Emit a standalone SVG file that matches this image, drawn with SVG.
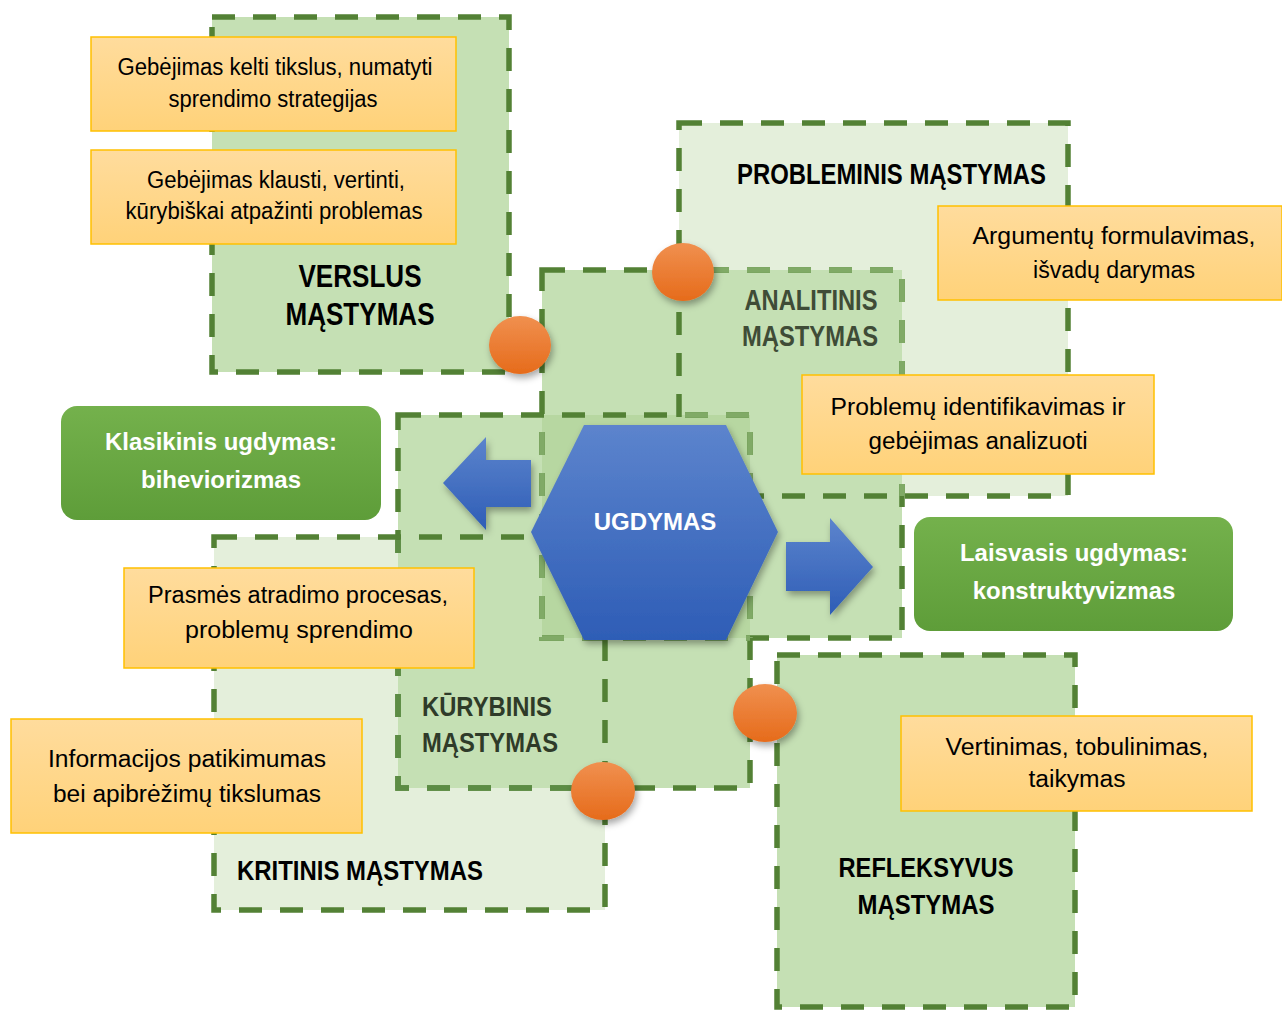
<svg xmlns="http://www.w3.org/2000/svg" width="1282" height="1010" viewBox="0 0 1282 1010">
<defs>
<style>
.dash{fill:none;stroke-width:5.5;stroke-dasharray:23 18;stroke-linecap:butt}
.dk{stroke:#538135}
.lt{stroke:#80aa66}
.md{stroke:#5c8c44}
.fillM{fill:#c5e0b4}
.fillL{fill:#e4efdb}
.title{font-family:"Liberation Sans",Arial,sans-serif;font-weight:bold;fill:#000}
.note{font-family:"Liberation Sans",Arial,sans-serif;font-size:23px;fill:#000;text-anchor:middle}
.ybox{fill:url(#gY);stroke:#ffc000;stroke-width:1.5}
.gbox{fill:url(#gG)}
.gtext{font-family:"Liberation Sans",Arial,sans-serif;font-weight:bold;font-size:24px;fill:#fff;text-anchor:middle}
.dot{fill:url(#gO);filter:url(#sh)}
.blue{fill:url(#gB);filter:url(#sh)}
</style>
<linearGradient id="gY" x1="0" y1="0" x2="0" y2="1"><stop offset="0" stop-color="#ffdc9d"/><stop offset="1" stop-color="#ffd279"/></linearGradient>
<linearGradient id="gG" x1="0" y1="0" x2="0" y2="1"><stop offset="0" stop-color="#74b14c"/><stop offset="1" stop-color="#5e9d39"/></linearGradient>
<linearGradient id="gO" x1="0" y1="0" x2="0" y2="1"><stop offset="0" stop-color="#f0904f"/><stop offset="1" stop-color="#e66b1b"/></linearGradient>
<linearGradient id="gB" x1="0" y1="0" x2="0" y2="1"><stop offset="0" stop-color="#5c84cd"/><stop offset="1" stop-color="#2e5db6"/></linearGradient>
<filter id="sh" x="-30%" y="-30%" width="160%" height="170%"><feDropShadow dx="2" dy="4" stdDeviation="3.5" flood-color="#000" flood-opacity="0.35"/></filter>
<clipPath id="cpCL"><rect x="398" y="415" width="352" height="376"/><rect x="679" y="118" width="393" height="378"/></clipPath>
<clipPath id="cpDL"><rect x="745" y="418" width="12" height="220"/><rect x="679" y="118" width="393" height="378"/></clipPath>
<clipPath id="cpDM"><rect x="214" y="540" width="391" height="373"/></clipPath>
</defs>

<!-- base fills of light boxes -->
<rect class="fillL" x="679" y="123" width="389" height="373"/>
<rect class="fillL" x="214" y="537" width="391" height="373"/>

<g id="verslus">
<rect class="fillM" x="212" y="17" width="297" height="355"/>
<rect class="dash dk" x="212" y="17" width="297" height="355"/>
<text class="title" x="360" y="287" font-size="32" text-anchor="middle" textLength="123" lengthAdjust="spacingAndGlyphs">VERSLUS</text>
<text class="title" x="360" y="325" font-size="32" text-anchor="middle" textLength="149" lengthAdjust="spacingAndGlyphs">MĄSTYMAS</text>
</g>

<g id="refleksyvus">
<rect class="fillM" x="777" y="655" width="298" height="352"/>
<rect class="dash dk" x="777" y="655" width="298" height="352"/>
<text class="title" x="926" y="877" font-size="27" text-anchor="middle" textLength="175" lengthAdjust="spacingAndGlyphs">REFLEKSYVUS</text>
<text class="title" x="926" y="914" font-size="27" text-anchor="middle" textLength="137" lengthAdjust="spacingAndGlyphs">MĄSTYMAS</text>
</g>

<g id="analitinis">
<rect class="fillM" x="542" y="270" width="360" height="368"/>
</g>
<g id="kurybinis">
<rect class="fillM" x="398" y="415" width="352" height="373"/>
<rect fill="#b7d7a1" x="542" y="415" width="208" height="223"/>
</g>

<g id="outlines">
<rect class="dash dk" x="542" y="270" width="360" height="368"/>
<rect class="dash dk" x="398" y="415" width="352" height="373"/>
<rect class="dash lt" x="542" y="270" width="360" height="368" clip-path="url(#cpCL)"/>
<rect class="dash lt" x="398" y="415" width="352" height="373" clip-path="url(#cpDL)"/>
<rect class="dash md" x="398" y="415" width="352" height="373" clip-path="url(#cpDM)"/>
</g>

<g id="probleminis">
<rect class="dash dk" x="679" y="123" width="389" height="373"/>
<text class="title" x="737" y="184" font-size="29" textLength="309" lengthAdjust="spacingAndGlyphs">PROBLEMINIS MĄSTYMAS</text>
</g>

<g id="kritinis">
<rect class="dash dk" x="214" y="537" width="391" height="373"/>
<text class="title" x="237" y="880" font-size="28" textLength="246" lengthAdjust="spacingAndGlyphs">KRITINIS MĄSTYMAS</text>
</g>

<g id="analitinis-label">
<text class="title" x="811" y="310" font-size="29" text-anchor="middle" style="fill:#3f4c37" textLength="133" lengthAdjust="spacingAndGlyphs">ANALITINIS</text>
<text class="title" x="810" y="346" font-size="29" text-anchor="middle" style="fill:#3f4c37" textLength="136" lengthAdjust="spacingAndGlyphs">MĄSTYMAS</text>
</g>
<g id="kurybinis-label">
<text class="title" x="422" y="716" font-size="28" style="fill:#2f3b29" textLength="130" lengthAdjust="spacingAndGlyphs">KŪRYBINIS</text>
<text class="title" x="422" y="752" font-size="28" style="fill:#2f3b29" textLength="136" lengthAdjust="spacingAndGlyphs">MĄSTYMAS</text>
</g>

<g id="note1"><rect class="ybox" x="91" y="37" width="365" height="94"/>
<text class="note" x="275" y="75" textLength="315" lengthAdjust="spacingAndGlyphs">Gebėjimas kelti tikslus, numatyti</text>
<text class="note" x="273" y="107" textLength="209" lengthAdjust="spacingAndGlyphs">sprendimo strategijas</text></g>
<g id="note2"><rect class="ybox" x="91" y="150" width="365" height="94"/>
<text class="note" x="276" y="188" textLength="258" lengthAdjust="spacingAndGlyphs">Gebėjimas klausti, vertinti,</text>
<text class="note" x="274" y="219" textLength="297" lengthAdjust="spacingAndGlyphs">kūrybiškai atpažinti problemas</text></g>
<g id="note3"><rect class="ybox" x="938" y="206" width="344" height="94"/>
<text class="note" x="1114" y="244" textLength="283" lengthAdjust="spacingAndGlyphs">Argumentų formulavimas,</text>
<text class="note" x="1114" y="278" textLength="162" lengthAdjust="spacingAndGlyphs">išvadų darymas</text></g>
<g id="note4"><rect class="ybox" x="802" y="375" width="352" height="99"/>
<text class="note" x="978" y="415" textLength="295" lengthAdjust="spacingAndGlyphs">Problemų identifikavimas ir</text>
<text class="note" x="978" y="449" textLength="219" lengthAdjust="spacingAndGlyphs">gebėjimas analizuoti</text></g>
<g id="note5"><rect class="ybox" x="124" y="568" width="350" height="100"/>
<text class="note" x="298" y="603" textLength="300" lengthAdjust="spacingAndGlyphs">Prasmės atradimo procesas,</text>
<text class="note" x="299" y="638" textLength="228" lengthAdjust="spacingAndGlyphs">problemų sprendimo</text></g>
<g id="note6"><rect class="ybox" x="11" y="719" width="351" height="114"/>
<text class="note" x="187" y="767" textLength="278" lengthAdjust="spacingAndGlyphs">Informacijos patikimumas</text>
<text class="note" x="187" y="802" textLength="268" lengthAdjust="spacingAndGlyphs">bei apibrėžimų tikslumas</text></g>
<g id="note7"><rect class="ybox" x="901" y="716" width="351" height="95"/>
<text class="note" x="1077" y="755" textLength="263" lengthAdjust="spacingAndGlyphs">Vertinimas, tobulinimas,</text>
<text class="note" x="1077" y="787" textLength="97" lengthAdjust="spacingAndGlyphs">taikymas</text></g>

<g id="dots">
<ellipse class="dot" cx="520" cy="345" rx="31" ry="29"/>
<ellipse class="dot" cx="683" cy="272" rx="31" ry="29"/>
<ellipse class="dot" cx="765" cy="713" rx="32" ry="29"/>
<ellipse class="dot" cx="603" cy="791" rx="32" ry="29"/>
</g>

<g id="connectors">
<polygon class="blue" points="443,483 486,437 486,460 531,460 531,507 486,507 486,530"/>
<polygon class="blue" points="786,542 830,542 830,518 873,567 830,615 830,591 786,591"/>
</g>

<g id="ugdymas">
<polygon class="blue" points="531,532 584,425 726,425 778,532 726,640 584,640"/>
<text x="655" y="530" font-family="Liberation Sans, Arial, sans-serif" font-weight="bold" font-size="24" fill="#fff" text-anchor="middle">UGDYMAS</text>
</g>

<g id="klasikinis">
<rect class="gbox" x="61" y="406" width="320" height="114" rx="16"/>
<text class="gtext" x="221" y="450">Klasikinis ugdymas:</text>
<text class="gtext" x="221" y="488">biheviorizmas</text>
</g>
<g id="laisvasis">
<rect class="gbox" x="914" y="517" width="319" height="114" rx="16"/>
<text class="gtext" x="1074" y="561">Laisvasis ugdymas:</text>
<text class="gtext" x="1074" y="599">konstruktyvizmas</text>
</g>
</svg>
